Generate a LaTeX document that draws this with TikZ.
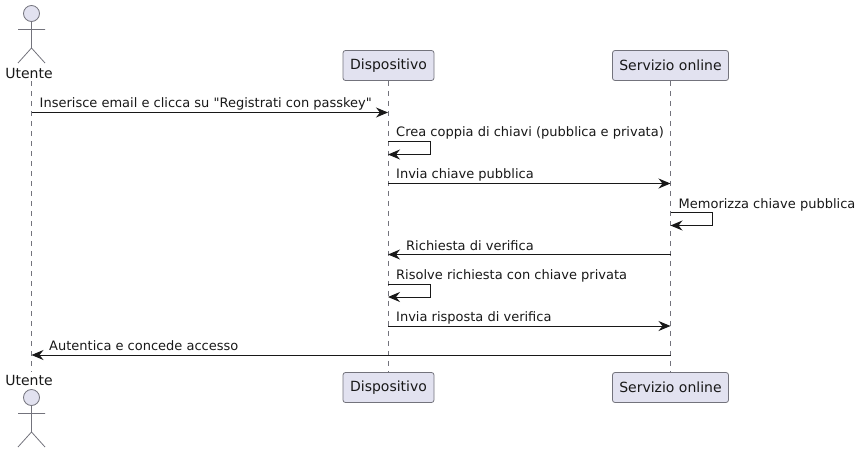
\documentclass[tikz,border=0pt]{standalone}
\usepackage{fontspec}
\newfontfamily\plainfont{DejaVu Sans}
\usetikzlibrary{arrows.meta}
\definecolor{pfill}{HTML}{E2E2F0}
\definecolor{pline}{HTML}{73737C}
\definecolor{ink}{HTML}{181818}
\tikzset{
  x=1pt,y=-1pt,
  part/.style={draw=pline,fill=pfill,rounded corners=2.5pt,line width=0.8pt,minimum height=30pt,inner sep=0pt,text=ink,font=\plainfont\fontsize{14}{16}\selectfont,anchor=center},
  actname/.style={text=ink,font=\plainfont\fontsize{14}{16}\selectfont,inner sep=0pt,anchor=base},
  life/.style={draw=pline,line width=0.8pt,dash pattern=on 5pt off 5pt},
  figure/.style={draw=pline,line width=0.8pt},
  msg/.style={draw=ink,line width=1pt,-{Stealth[length=12pt,width=10pt,inset=4pt]}},
  lab/.style={text=ink,font=\plainfont\fontsize{13}{15}\selectfont,inner sep=0pt,anchor=base west}
}
\begin{document}
\begin{tikzpicture}
\useasboundingbox (0,0) rectangle (860,453);
% participants
\node[part,minimum width=91pt] (dt) at (388.5,65.5) {Dispositivo};
\node[part,minimum width=116pt] (st) at (670.5,65.5) {Servizio online};
\node[part,minimum width=91pt] (db) at (388.5,387.5) {Dispositivo};
\node[part,minimum width=116pt] (sb) at (670.5,387.5) {Servizio online};
\node[actname] (ut) at (29,78.5) {Utente};
\node[actname] (ub) at (29,385.5) {Utente};
% lifelines
\coordinate (ul1) at (31.5,81);
\coordinate (ul2) at (31.5,372);
\draw[life] (ul1) -- (ul2);
\draw[life] (dt.south) -- (db.north);
\draw[life] (st.south) -- (sb.north);
% actors
\draw[figure,fill=pfill] (31.5,13.5) circle (8);
\draw[figure] (31.5,21.5) -- (31.5,48) (18,29.5) -- (45,29.5) (18,63) -- (31.5,48) -- (45,63);
\draw[figure,fill=pfill] (31.5,397.5) circle (8);
\draw[figure] (31.5,405.5) -- (31.5,432) (18,413.5) -- (45,413.5) (18,447) -- (31.5,432) -- (45,447);
% message anchors
\coordinate (a1) at (31.5,112.5);  \coordinate (b1) at (388,112.5);
\coordinate (b3) at (388,183.5);   \coordinate (c3) at (670.5,183.5);
\coordinate (b5) at (388,254.5);   \coordinate (c5) at (670.5,254.5);
\coordinate (b7) at (388,326);     \coordinate (c7) at (670.5,326);
\coordinate (a8) at (31.5,355);    \coordinate (c8) at (670.5,355);
\coordinate (b2a) at (388,141.5);  \coordinate (b2b) at (388,154.5);
\coordinate (c4a) at (670.5,212.5);\coordinate (c4b) at (670.5,225.5);
\coordinate (b6a) at (388,284);    \coordinate (b6b) at (388,297);
% messages
\draw[msg] (a1) -- (b1);
\draw[msg] (b2a) -- ++(42.5,0) |- (b2b);
\draw[msg] (b3) -- (c3);
\draw[msg] (c4a) -- ++(42,0) |- (c4b);
\draw[msg] (c5) -- (b5);
\draw[msg] (b6a) -- ++(42.5,0) |- (b6b);
\draw[msg] (b7) -- (c7);
\draw[msg] (c8) -- (a8);
% labels
\node[lab] (l1) at (39.5,107) {Inserisce email e clicca su "Registrati con passkey"};
\node[lab] (l2) at (396,136) {Crea coppia di chiavi (pubblica e privata)};
\node[lab] (l3) at (396,178.5) {Invia chiave pubblica};
\node[lab] (l4) at (678.5,208) {Memorizza chiave pubblica};
\node[lab] (l5) at (406,250) {Richiesta di verifica};
\node[lab] (l6) at (396,279) {Risolve richiesta con chiave privata};
\node[lab] (l7) at (396,321) {Invia risposta di verifica};
\node[lab] (l8) at (49,350) {Autentica e concede accesso};
\end{tikzpicture}
\end{document}
